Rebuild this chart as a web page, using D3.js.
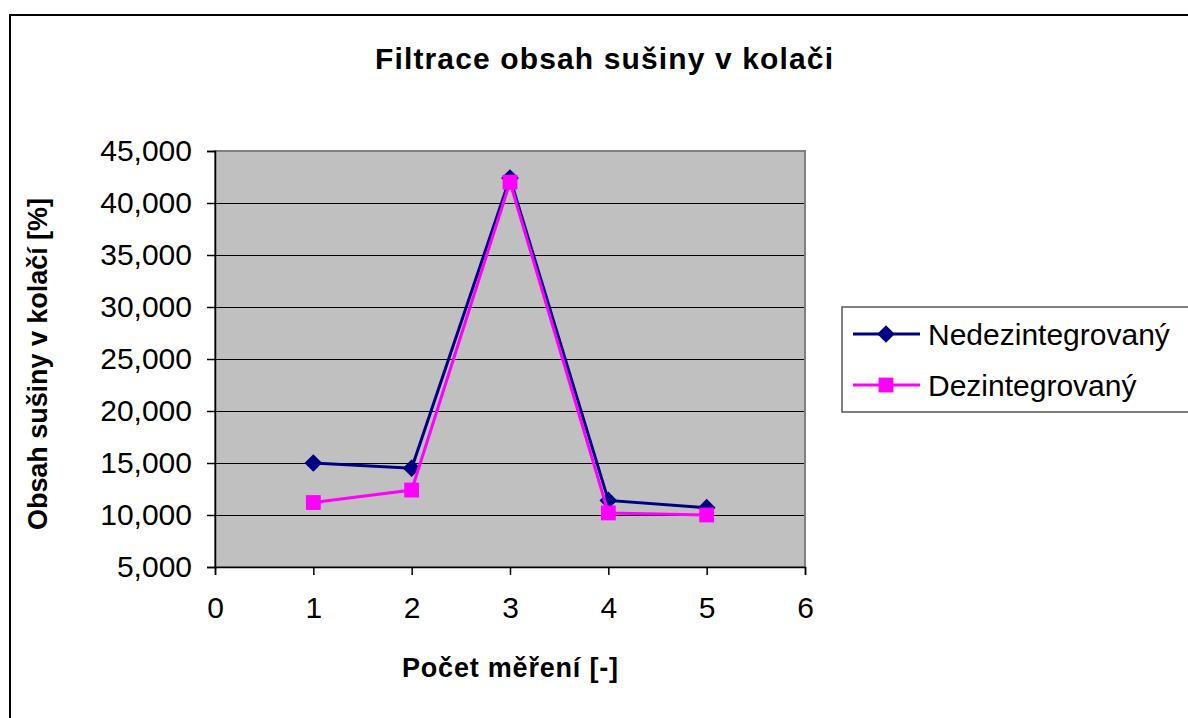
<!DOCTYPE html>
<html><head><meta charset="utf-8">
<script src="https://cdn.jsdelivr.net/npm/d3@7"></script>
<style>html,body{margin:0;padding:0;background:#fff;}svg{display:block;font-family:"Liberation Sans",Arial,sans-serif;}</style>
</head><body>
<svg id="c" width="1188" height="718"></svg>
<script>
const xValues = [1, 2, 3, 4, 5];
const nedezintegrovany = [15000, 14500, 42400, 11400, 10700];
const dezintegrovany = [11200, 12400, 42000, 10200, 10000];
const xTicks = [0, 1, 2, 3, 4, 5, 6];
const yTicks = [5000, 10000, 15000, 20000, 25000, 30000, 35000, 40000, 45000];
const seriesNames = ["Nedezintegrovaný", "Dezintegrovaný"];
const titleText = "Filtrace obsah sušiny v kolači";
const xTitle = "Počet měření [-]";
const yTitle = "Obsah sušiny v kolačí [%]";

const svg = d3.select("#c");
const L = 215, R = 805, T = 151, B = 567;
const x = d3.scaleLinear().domain([0, 6]).range([L, R]);
const y = d3.scaleLinear().domain([5000, 45000]).range([B, T]);

// outer border
svg.append("rect").attr("x", 10).attr("y", 15).attr("width", 1200).attr("height", 720)
  .attr("fill", "#fff").attr("stroke", "#000").attr("stroke-width", 2);

// title
svg.append("text").attr("x", 604).attr("y", 69).attr("text-anchor", "middle")
  .attr("font-size", 30).attr("font-weight", "bold")
  .attr("textLength", 458).attr("lengthAdjust", "spacing").text(titleText);

// plot area
svg.append("rect").attr("x", L).attr("y", T).attr("width", R - L).attr("height", B - T)
  .attr("fill", "#C0C0C0");

// gridlines
svg.append("g").selectAll("line").data(yTicks.filter(d => d > 5000 && d < 45000)).join("line")
  .attr("x1", L).attr("x2", R).attr("y1", d => Math.round(y(d)) + 0.5).attr("y2", d => Math.round(y(d)) + 0.5)
  .attr("stroke", "#000").attr("stroke-width", 1.5).attr("shape-rendering", "crispEdges");

svg.append("rect").attr("x", L).attr("y", T).attr("width", R - L).attr("height", B - T)
  .attr("fill", "none").attr("stroke", "#808080").attr("stroke-width", 2);

// axes
const yAxis = d3.axisLeft(y).tickValues(yTicks).tickFormat(d3.format(",")).tickSize(8).tickPadding(15);
const gy = svg.append("g").attr("transform", `translate(${L},0)`).call(yAxis);
gy.select(".domain").attr("stroke", "#000").attr("stroke-width", 1.5);
gy.selectAll(".tick line").attr("stroke", "#000").attr("stroke-width", 1.5);
gy.selectAll("text").attr("font-size", 30).attr("fill", "#000").attr("font-family", "Liberation Sans, Arial, sans-serif");

const xAxis = d3.axisBottom(x).tickValues(xTicks).tickFormat(d3.format("d")).tickSize(8).tickPadding(22);
const gx = svg.append("g").attr("transform", `translate(0,${B})`).call(xAxis);
gx.select(".domain").attr("stroke", "#000").attr("stroke-width", 1.5);
gx.selectAll(".tick line").attr("stroke", "#000").attr("stroke-width", 1.5);
gx.selectAll("text").attr("font-size", 30).attr("fill", "#000").attr("font-family", "Liberation Sans, Arial, sans-serif");

// axis titles
svg.append("text").attr("x", 510).attr("y", 677).attr("text-anchor", "middle")
  .attr("font-size", 27).attr("font-weight", "bold")
  .attr("textLength", 216).attr("lengthAdjust", "spacing").text(xTitle);
svg.append("text").attr("transform", "translate(47,364) rotate(-90)").attr("text-anchor", "middle")
  .attr("font-size", 27).attr("font-weight", "bold")
  .attr("textLength", 332).attr("lengthAdjust", "spacing").text(yTitle);

// series
const line = d3.line().x(d => x(d[0])).y(d => y(d[1]));
const s1 = xValues.map((v, i) => [v, nedezintegrovany[i]]);
const s2 = xValues.map((v, i) => [v, dezintegrovany[i]]);
const diamond = d3.symbol().type(d3.symbolDiamond2).size(200);
const square = d3.symbol().type(d3.symbolSquare2).size(280);

svg.append("path").attr("d", line(s1)).attr("fill", "none").attr("stroke", "#000080").attr("stroke-width", 3);
svg.append("g").selectAll("path").data(s1).join("path")
  .attr("d", diamond).attr("transform", d => `translate(${x(d[0])},${y(d[1])})`).attr("fill", "#000080");
svg.append("path").attr("d", line(s2)).attr("fill", "none").attr("stroke", "#FF00FF").attr("stroke-width", 3);
svg.append("g").selectAll("path").data(s2).join("path")
  .attr("d", square).attr("transform", d => `translate(${x(d[0])},${y(d[1])})`).attr("fill", "#FF00FF");

// legend
const lg = svg.append("g");
lg.append("rect").attr("x", 842).attr("y", 307).attr("width", 400).attr("height", 105)
  .attr("fill", "#fff").attr("stroke", "#555").attr("stroke-width", 1.5);
const colors = ["#000080", "#FF00FF"];
const syms = [diamond, square];
seriesNames.forEach((name, i) => {
  const cy = 334 + i * 51;
  lg.append("line").attr("x1", 853).attr("x2", 920).attr("y1", cy).attr("y2", cy)
    .attr("stroke", colors[i]).attr("stroke-width", 3);
  lg.append("path").attr("d", syms[i]).attr("transform", `translate(886,${cy})`).attr("fill", colors[i]);
  lg.append("text").attr("x", 928).attr("y", cy + 11).attr("font-size", 30).text(name);
});
</script>
</body></html>
